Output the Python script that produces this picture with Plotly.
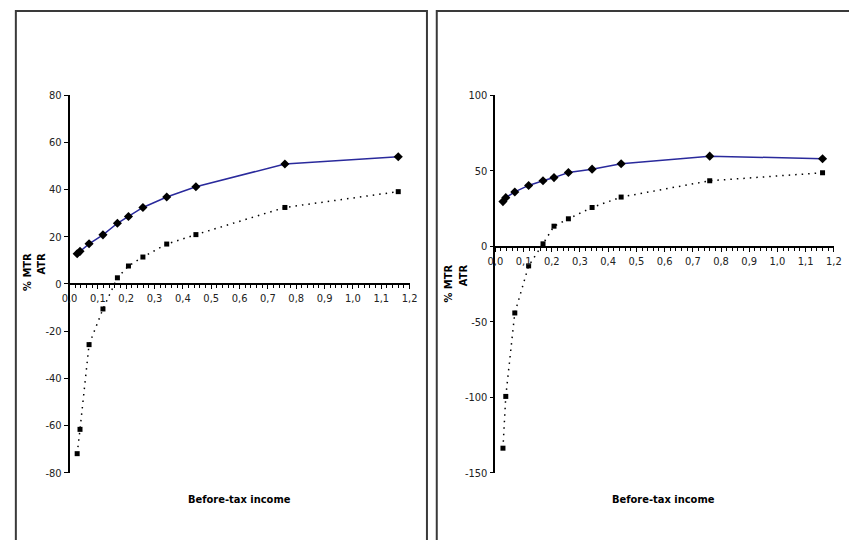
import plotly.graph_objects as go

# Before-tax income grid (shared by both panels)
income = [0.027, 0.037, 0.069, 0.118, 0.169, 0.208, 0.259, 0.343, 0.446, 0.760, 1.160]

# Left panel: marginal and average tax rates (%)
mtr_left = [12.8, 13.8, 17.0, 20.8, 25.7, 28.6, 32.4, 36.8, 41.2, 50.8, 53.9]
atr_left = [-71.9, -61.6, -25.7, -10.6, 2.6, 7.6, 11.4, 16.9, 20.9, 32.4, 39.1]

# Right panel: marginal and average tax rates (%)
mtr_right = [29.7, 32.3, 36.1, 40.4, 43.5, 45.6, 49.0, 51.2, 54.8, 59.8, 58.1]
atr_right = [-133.7, -99.4, -44.1, -12.9, 1.7, 13.4, 18.3, 25.8, 32.7, 43.5, 48.8]

x_ticks = [0.0, 0.1, 0.2, 0.3, 0.4, 0.5, 0.6, 0.7, 0.8, 0.9, 1.0, 1.1, 1.2]
left_y_ticks = [-80, -60, -40, -20, 0, 20, 40, 60, 80]
right_y_ticks = [-150, -100, -50, 0, 50, 100]

W, H = 849, 540
FONT = "Liberation Sans Narrow, Arial Narrow, DejaVu Sans Condensed, Liberation Sans, Arial"
LINE_BLUE = "#2a2a9c"


def px_x(p):
    return p / W


def px_y(p):
    return 1 - p / H


fig = go.Figure()

panels = [
    ("x", "y", mtr_left, atr_left),
    ("x2", "y2", mtr_right, atr_right),
]
for xa, ya, mtr, atr in panels:
    fig.add_trace(go.Scatter(
        x=income, y=mtr, xaxis=xa, yaxis=ya, mode="lines+markers",
        line=dict(color=LINE_BLUE, width=1.5),
        marker=dict(symbol="diamond", size=7, color="black"),
        showlegend=False, cliponaxis=False,
    ))
    fig.add_trace(go.Scatter(
        x=income, y=atr, xaxis=xa, yaxis=ya, mode="lines+markers",
        line=dict(color="black", width=1.5, dash="1.5px,5px"),
        marker=dict(symbol="square", size=5, color="black"),
        showlegend=False, cliponaxis=False,
    ))

xaxis_common = dict(
    range=[0, 1.2], tickvals=x_ticks, tickformat=".1f",
    showline=True, linecolor="black", linewidth=1.5,
    ticks="outside", ticklen=4, tickcolor="black", tickwidth=1,
    minor=dict(dtick=0.02, ticks="outside", ticklen=3, tickcolor="black"),
    showgrid=False, zeroline=False,
    tickfont=dict(family=FONT, size=11, color="#222"),
    anchor="free",
)
yaxis_common = dict(
    showline=True, linecolor="black", linewidth=1.5,
    ticks="outside", ticklen=4, tickcolor="black",
    showgrid=False, zeroline=False,
    tickfont=dict(family=FONT, size=11, color="#222"),
)

# plot-area pixel geometry
L_x0, L_x1 = 62.7, 409.3
L_ytop, L_ybot, L_zero = 91.3, 478.3, 285.0
R_x0, R_x1 = 496.7, 841.7
R_ytop, R_ybot, R_zero = 91.7, 478.3, 246.7

fig.update_layout(
    width=W, height=H,
    margin=dict(l=0, r=0, t=0, b=0),
    paper_bgcolor="white", plot_bgcolor="rgba(0,0,0,0)",
    separators=",.",
    xaxis=dict(xaxis_common, domain=[px_x(L_x0), px_x(L_x1)], position=px_y(L_zero)),
    yaxis=dict(yaxis_common, domain=[px_y(L_ybot), px_y(L_ytop)], range=[-80, 80],
               tickvals=left_y_ticks, ticktext=[str(v) for v in left_y_ticks],
               anchor="x"),
    xaxis2=dict(xaxis_common, domain=[px_x(R_x0), px_x(R_x1)], position=px_y(R_zero)),
    yaxis2=dict(yaxis_common, domain=[px_y(R_ybot), px_y(R_ytop)], range=[-150, 100],
                tickvals=right_y_ticks, ticktext=[str(v) for v in right_y_ticks],
                anchor="x2"),
)

# panel frames
frame = dict(type="rect", xref="paper", yref="paper",
             line=dict(color="#3a3a3a", width=2), fillcolor="rgba(0,0,0,0)")
fig.add_shape(frame, x0=px_x(8), x1=px_x(427), y0=px_y(560), y1=px_y(5))
fig.add_shape(frame, x0=px_x(437), x1=px_x(860), y0=px_y(560), y1=px_y(5))

label_font = dict(family=FONT, size=11, color="black")
for cx, cy in [(27, 272), (456, 284)]:
    fig.add_annotation(
        x=px_x(cx), y=px_y(cy), xref="paper", yref="paper",
        xanchor="center", yanchor="middle",
        text="<b>% MTR<br>ATR</b>", textangle=-90, showarrow=False,
        align="right", font=label_font,
    )
for cx in [236, 668]:
    fig.add_annotation(
        x=px_x(cx), y=px_y(506), xref="paper", yref="paper",
        xanchor="center", yanchor="middle",
        text="<b>Before-tax income</b>", showarrow=False, font=label_font,
    )

fig.write_html("out.html")
